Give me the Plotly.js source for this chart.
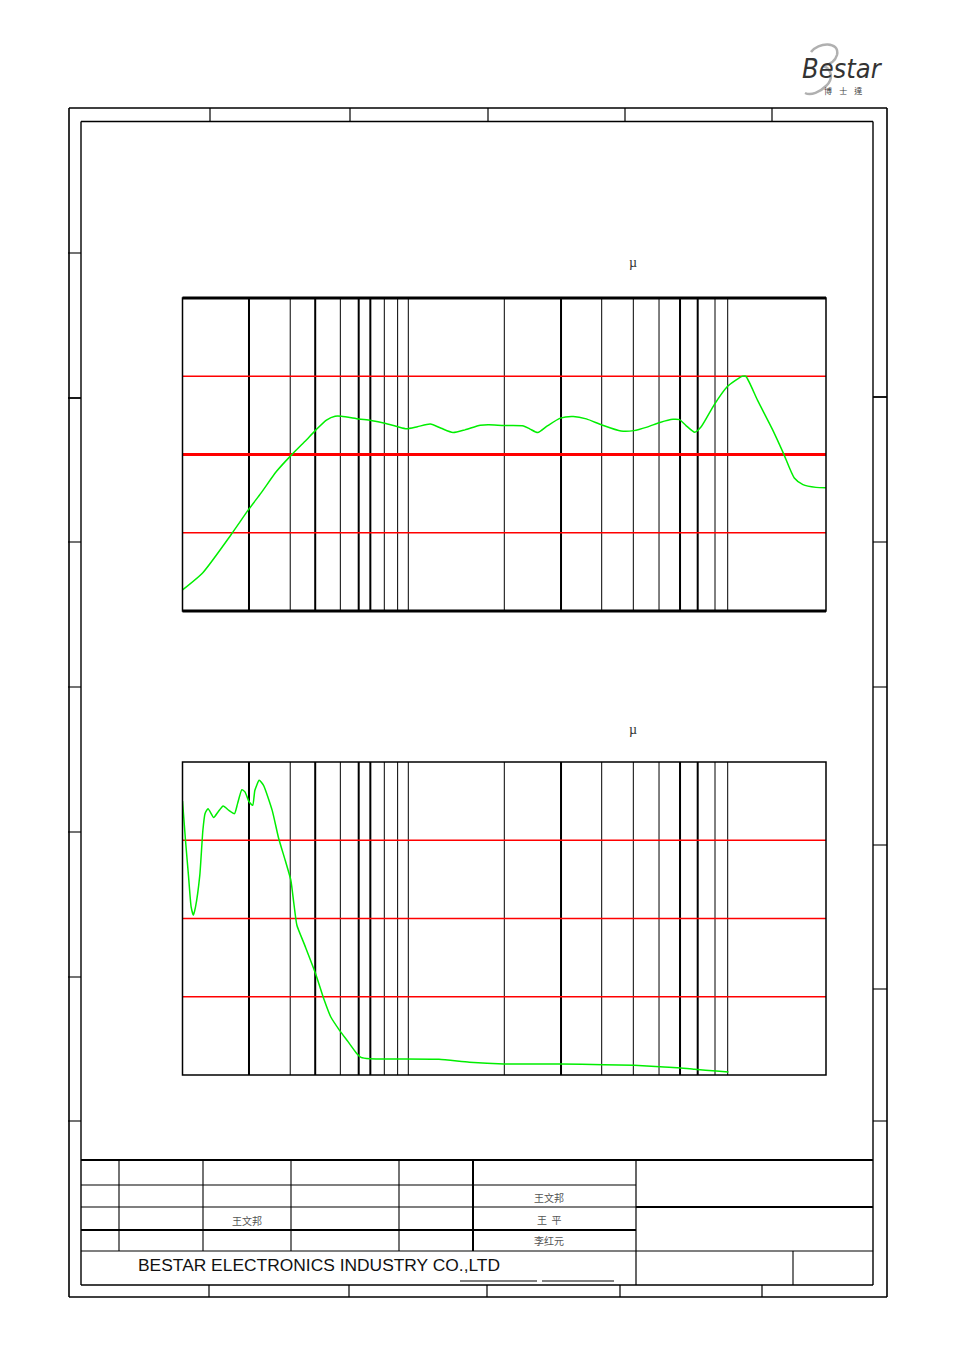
<!DOCTYPE html>
<html><head><meta charset="utf-8">
<script src="https://cdn.plot.ly/plotly-3.0.1.min.js"></script>
<style>html,body{margin:0;padding:0;background:#fff;} #chart{width:954px;height:1351px;}</style>
</head><body><div id="chart"></div>
<script>
// ---- data ----
const splFreq = [100,123,164,196,223,261,304,348,390,434,474,506,604,683,787,899,982,1097,1252,1398,1576,1783,2082,2274,2654,3238,3460,3745,4128,4714,5381,6143,7172,8750,9990,11404,13020,14866,15886,16977,18545,19818,22623,25831,28214,30148,31225,35184,41080,45860,51227,55963,63900,70700];
const splDb   = [45.4,49.8,59.5,65.9,70.2,75.7,79.9,83.3,86.3,88.8,89.8,89.8,89.1,88.7,88.0,87.1,86.6,87.1,87.8,86.7,85.6,86.3,87.5,87.6,87.4,87.3,86.5,85.6,87.3,89.3,89.7,89.1,87.6,86.0,86.1,87.0,88.2,89.0,88.9,87.4,85.7,87.1,92.7,97.3,99.0,100.0,100.0,93.9,86.3,80.3,74.0,72.3,71.6,71.5];
const thdFreq = [100,103.1,106.4,109.2,111.7,114.2,119.3,123.1,125.8,129.8,137.4,143.7,151.4,160.5,169.9,175.3,183.2,189.0,197.4,204.6,209.2,218.6,228.5,249.6,266.7,285.0,301.8,311.3,321.1,347.6,388.2,424.2,453.2,495.1,540.8,590.8,617.5,674.5,879.4,1368,1864,2654,4714,7334,9990,13020,15539,18545,23125,26178];
const thdPct  = [17.51,15.0,12.66,10.74,10.21,10.74,12.77,15.64,16.70,17.02,16.45,16.81,17.19,16.91,16.70,17.34,18.23,18.09,17.45,17.23,18.19,18.83,18.51,16.91,15.11,13.72,12.45,10.96,9.57,8.30,6.49,4.79,3.72,2.87,2.13,1.38,1.13,1.04,1.02,1.00,0.81,0.70,0.70,0.66,0.62,0.53,0.47,0.36,0.26,0.19];
const gridThinFreq  = [300,500,783,897,1000,2662,7186,9920,12894,22817,25969];
const gridThickFreq = [197,387,603,679,4746,15973,19128];
const splGridThin  = [60,100];
const splGridThick = [80];
const thdGrid = [5,10,15];
const nameLabels = ['王文邦','王文邦','王  平','李红元'];
const companyName = 'BESTAR ELECTRONICS INDUSTRY CO.,LTD';
const logoText = 'Bestar';
const logoSub = '博    士    達';

// ---- layout helpers ----
const W = 954, H = 1351;
const px = v => v / W;
const py = v => 1 - v / H;
const shapes = [];
function seg(x0, y0, x1, y1, w, c) {
  shapes.push({type:'line', xref:'paper', yref:'paper', x0:px(x0), y0:py(y0), x1:px(x1), y1:py(y1), line:{color:c||'#000', width:w||1.5}});
}
// page frame
seg(69,108,887,108,1.6); seg(69,1297,887,1297,1.6); seg(69,108,69,1297,1.6); seg(887,108,887,1297,1.6);
seg(81,121.5,873,121.5,1.4); seg(81,1285,873,1285,1.4); seg(81,121.5,81,1285,1.4); seg(873,121.5,873,1285,1.4);
[210,350,488,625,772].forEach(x => seg(x,108,x,121.5,1.2));
[209,349,487,620,762].forEach(x => seg(x,1285,x,1297,1.2));
[253,398,542,687,832,977,1121].forEach((y,i) => seg(68,y,81,y,i===1?1.8:1.1));
[397,542,687,845,989,1121].forEach((y,i) => seg(873,y,887,y,i===0?1.8:1.1));
// title block
seg(81,1160,873,1160,2.2);
seg(81,1185,636,1185,1.1);
seg(81,1207,473,1207,1.1); seg(473,1207,636,1207,1.1); seg(636,1207,873,1207,2.2);
seg(81,1230,636,1230,2.2);
seg(81,1251,873,1251,1.1);
[119,203,291,399].forEach(x => seg(x,1160,x,1251,1.1));
seg(473,1160,473,1251,2);
seg(636,1160,636,1285,1.2);
seg(793,1251,793,1285,1.1);
seg(460,1281,537,1281,1.1); seg(542,1281,614,1281,1.1);
// logo swoosh
shapes.push({type:'path', xref:'paper', yref:'paper',
  path: 'M '+px(811)+','+py(52)+' C '+px(818)+','+py(42)+' '+px(840)+','+py(41)+' '+px(837)+','+py(55)+
        ' C '+px(835)+','+py(62)+' '+px(828)+','+py(65)+' '+px(823)+','+py(66)+
        ' C '+px(833)+','+py(69)+' '+px(833)+','+py(80)+' '+px(826)+','+py(86)+
        ' C '+px(820)+','+py(92)+' '+px(811)+','+py(96)+' '+px(805)+','+py(93),
  line:{color:'#b0b0b0', width:2.5}});

// chart grids
function chartGrid(xr, yr, thinH, thickH, thickBorder) {
  gridThinFreq.forEach(f => shapes.push({type:'line', xref:xr, yref:yr+' domain', x0:f, x1:f, y0:0, y1:1, layer:'below', line:{color:'#000', width:1}}));
  gridThickFreq.forEach(f => shapes.push({type:'line', xref:xr, yref:yr+' domain', x0:f, x1:f, y0:0, y1:1, layer:'below', line:{color:'#000', width:2}}));
  thinH.forEach(v => shapes.push({type:'line', xref:xr+' domain', yref:yr, x0:0, x1:1, y0:v, y1:v, layer:'below', line:{color:'#ff0000', width:1.3}}));
  thickH.forEach(v => shapes.push({type:'line', xref:xr+' domain', yref:yr, x0:0, x1:1, y0:v, y1:v, layer:'below', line:{color:'#ff0000', width:2.8}}));
  shapes.push({type:'rect', xref:xr+' domain', yref:yr+' domain', x0:0, x1:1, y0:0, y1:1, line:{color:'#000', width:1.5}});
  if (thickBorder) {
    shapes.push({type:'line', xref:xr+' domain', yref:yr+' domain', x0:0, x1:1, y0:0, y1:0, line:{color:'#000', width:3}});
    shapes.push({type:'line', xref:xr+' domain', yref:yr+' domain', x0:0, x1:1, y0:1, y1:1, line:{color:'#000', width:3}});
  }
}
chartGrid('x','y', splGridThin, splGridThick, true);
chartGrid('x2','y2', thdGrid, [], false);

const annotations = [];
function label(text, x, y, size, family, color, extra) {
  annotations.push(Object.assign({text:text, xref:'paper', yref:'paper', x:px(x), y:py(y), xanchor:'center', yanchor:'middle', showarrow:false,
    font:{size:size, family:family, color:color}}, extra||{}));
}
label('µ', 633, 262, 14, 'Liberation Serif, serif', '#333');
label('µ', 633, 729, 14, 'Liberation Serif, serif', '#333');
label(nameLabels[0], 549, 1197, 10, 'Noto Sans CJK SC', '#555');
label(nameLabels[1], 247, 1220, 10, 'Noto Sans CJK SC', '#555');
label(nameLabels[2], 549, 1219, 10, 'Noto Sans CJK SC', '#555');
label(nameLabels[3], 549, 1240, 10, 'Noto Sans CJK SC', '#555');
label(companyName, 319, 1265, 17.4, 'Liberation Sans, Arial, sans-serif', '#111');
annotations.push({text:logoText, xref:'paper', yref:'paper', x:px(842), y:py(69), xanchor:'center', yanchor:'middle', showarrow:false,
  font:{size:27, family:'Liberation Sans Narrow, DejaVu Sans Condensed, sans-serif', color:'#333', style:'italic'}});
label(logoSub, 843, 90, 8, 'Noto Sans CJK TC', '#444');

const logRange = [2, Math.log10(70770)];
const axX = d => ({domain:d, type:'log', range:logRange, showgrid:false, showticklabels:false, ticks:'', zeroline:false, showline:false, fixedrange:true});
const axY = (d, r, a) => ({domain:d, range:r, showgrid:false, showticklabels:false, ticks:'', zeroline:false, showline:false, anchor:a, fixedrange:true});

const traces = [
  {x:splFreq, y:splDb, xaxis:'x', yaxis:'y', mode:'lines', line:{color:'#00ee00', width:1.5, shape:'spline', smoothing:0.6}, hoverinfo:'skip'},
  {x:thdFreq, y:thdPct, xaxis:'x2', yaxis:'y2', mode:'lines', line:{color:'#00ee00', width:1.5, shape:'spline', smoothing:0.5}, hoverinfo:'skip'}
];
const layout = {
  width:W, height:H, margin:{l:0,r:0,t:0,b:0}, paper_bgcolor:'#fff', plot_bgcolor:'#fff', showlegend:false,
  xaxis: Object.assign(axX([px(182.5), px(826)]), {anchor:'y'}),
  yaxis: axY([py(611), py(298)], [40,120], 'x'),
  xaxis2: Object.assign(axX([px(182.5), px(826)]), {anchor:'y2'}),
  yaxis2: axY([py(1075), py(762)], [0,20], 'x2'),
  shapes: shapes, annotations: annotations
};
Plotly.newPlot('chart', traces, layout, {displayModeBar:false, staticPlot:true});
</script></body></html>
